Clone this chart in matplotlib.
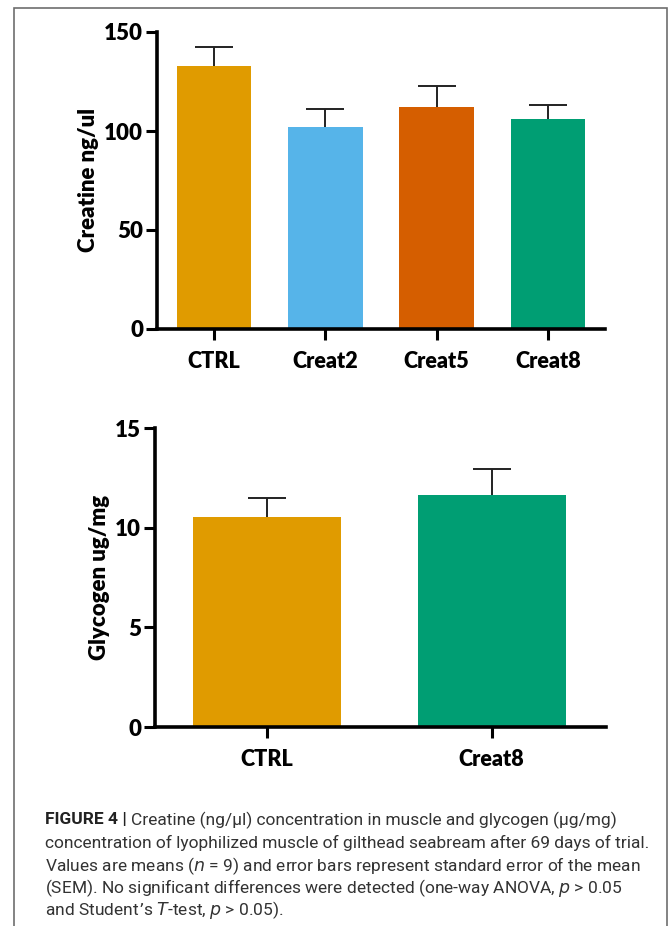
import matplotlib
matplotlib.use("Agg")
import matplotlib.pyplot as plt
from matplotlib.patches import Rectangle

# Data
creat_groups = ["CTRL", "Creat2", "Creat5", "Creat8"]
creat_means = [133.0, 102.0, 112.0, 106.0]
creat_sem = [9.3, 9.0, 10.5, 7.3]
creat_colors = ["#E09B00", "#56B4E9", "#D55E00", "#009E73"]
creat_yticks = [0, 50, 100, 150]

glyc_groups = ["CTRL", "Creat8"]
glyc_means = [10.55, 11.63]
glyc_sem = [0.95, 1.31]
glyc_colors = ["#E09B00", "#009E73"]
glyc_yticks = [0, 5, 10, 15]

W, H = 669, 926
fig = plt.figure(figsize=(W / 100, H / 100), dpi=100)
plt.rcParams['font.family'] = ['Lato', 'DejaVu Sans']

def fx(px):
    return px / W

def fy(py):
    return 1 - py / H

def style_axes(ax, groups, ylabel, yticks):
    for s in ["top", "right"]:
        ax.spines[s].set_visible(False)
    for s in ["left", "bottom"]:
        ax.spines[s].set_linewidth(2.6)
        ax.spines[s].set_color("black")
    ax.set_xticks(range(len(groups)))
    ax.set_xticklabels(groups, fontsize=15.5, fontweight="heavy")
    ax.set_yticks(yticks)
    ax.set_yticklabels([str(t) for t in yticks], fontsize=16, fontweight="heavy")
    ax.tick_params(axis="both", length=8, width=2.2, direction="out", color="black")
    ax.tick_params(axis="x", pad=8)
    ax.tick_params(axis="y", pad=2)
    ax.set_ylabel(ylabel, fontsize=16, fontweight="heavy", labelpad=4)

def draw_bars(ax, means, sems, colors, width):
    x = list(range(len(means)))
    ax.bar(x, means, width=width, color=colors, zorder=2)
    tops = [m + s for m, s in zip(means, sems)]
    ax.vlines(x, means, tops, colors="#222222", linewidth=1.4, zorder=1)
    ax.plot(x, tops, linestyle="none", marker="_", markersize=28,
            markeredgewidth=1.4, color="#222222", zorder=1)

# Top chart
ax1 = fig.add_axes([fx(157), fy(329), fx(605) - fx(157), fy(32) - fy(329)])
draw_bars(ax1, creat_means, creat_sem, creat_colors, 0.67)
ax1.set_xlim(-0.51, 3.51)
ax1.set_ylim(0, 150)
style_axes(ax1, creat_groups, "Creatine ng/ul", creat_yticks)

# Bottom chart
ax2 = fig.add_axes([fx(155), fy(727), fx(606) - fx(155), fy(428) - fy(727)])
draw_bars(ax2, glyc_means, glyc_sem, glyc_colors, 0.66)
ax2.set_xlim(-0.5, 1.51)
ax2.set_ylim(0, 15)
style_axes(ax2, glyc_groups, "Glycogen ug/mg", glyc_yticks)

# Frame
fig.patches.append(Rectangle((fx(14), fy(940)), fx(667) - fx(14), fy(8) - fy(940),
                             transform=fig.transFigure, fill=False,
                             edgecolor="#6e6e6e", linewidth=1.2))

# Caption
cap_font = ['Roboto', 'DejaVu Sans']
cap_size = 12.5
lines = [
    "concentration of lyophilized muscle of gilthead seabream after 69 days of trial.",
    "Values are means ($\\it{n}$ = 9) and error bars represent standard error of the mean",
    "(SEM). No significant differences were detected (one-way ANOVA, $\\it{p}$ > 0.05",
    "and Student’s $\\it{T}$-test, $\\it{p}$ > 0.05).",
]
ys = [820, 843, 866, 888, 910]
t0 = fig.text(fx(45), fy(ys[0]), "FIGURE 4 |", fontsize=cap_size, fontweight="bold",
              family=cap_font, color="#222222", va="center")
fig.canvas.draw()
bb = t0.get_window_extent()
fig.text(bb.x1 / W + fx(4), fy(ys[0]),
         "Creatine (ng/µl) concentration in muscle and glycogen (µg/mg)",
         fontsize=cap_size, family=cap_font, color="#333333", va="center")
for ln, y in zip(lines, ys[1:]):
    fig.text(fx(45), fy(y), ln, fontsize=cap_size, family=cap_font, color="#333333", va="center")

fig.savefig("out.png", dpi=100)
